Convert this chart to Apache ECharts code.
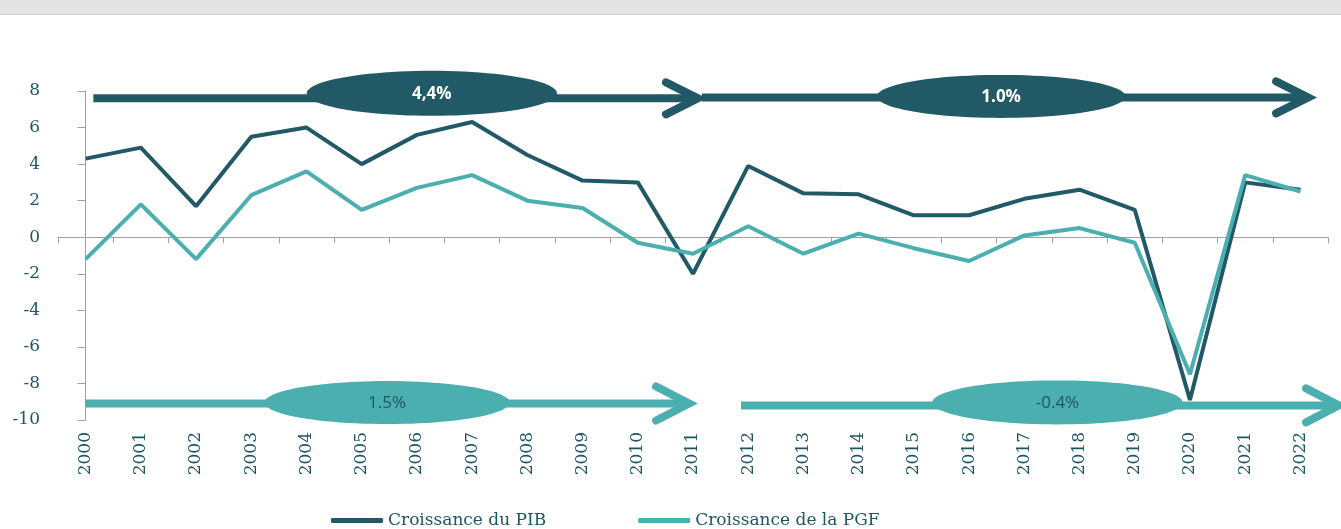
<!DOCTYPE html>
<html>
<head>
<meta charset="utf-8">
<script src="https://cdn.jsdelivr.net/npm/echarts@6/dist/echarts.min.js"></script>
<style>
html,body{margin:0;padding:0;background:#fff;}
#chart{width:1341px;height:529px;}
</style>
</head>
<body>
<div id="chart"></div>
<script>
// ---- Data ----
const years = ['2000','2001','2002','2003','2004','2005','2006','2007','2008','2009','2010','2011',
               '2012','2013','2014','2015','2016','2017','2018','2019','2020','2021','2022'];
const pibGrowth = [4.3, 4.9, 1.7, 5.5, 6.0, 4.0, 5.6, 6.3, 4.5, 3.1, 3.0, -2.0,
                   3.9, 2.4, 2.35, 1.2, 1.2, 2.1, 2.6, 1.5, -8.9, 3.0, 2.6];
const pgfGrowth = [-1.2, 1.8, -1.2, 2.3, 3.6, 1.5, 2.7, 3.4, 2.0, 1.6, -0.3, -0.9,
                   0.6, -0.9, 0.2, -0.6, -1.3, 0.1, 0.5, -0.3, -7.5, 3.4, 2.5];
const seriesNames = ['Croissance du PIB', 'Croissance de la PGF'];
const periodLabels = ['4,4%', '1.0%', '1.5%', '-0.4%'];   // average growth per period
const periodSeries = [0, 0, 1, 1];                         // 0 = PIB, 1 = PGF

// ---- Styles / layout ----
const DARK = '#225966';
const LIGHT = '#4AAFAE';
const TXT = '#1F5664';
const AXIS = '#A0A0A0';
// arrow layout in axis units (x: category index, y: value)
const ARROW_LAYOUT = [
  {x0: 0.14, x1: 11.09, y: 7.6,  cx: 6.27,  w: 4.53, dy: -5, h: 45, head: 16, headX: 32},
  {x0: 11.16, x1: 22.14, y: 7.65, cx: 16.58, w: 4.50, dy: -1, h: 43, head: 16, headX: 32},
  {x0: 0.0,  x1: 10.93, y: -9.1,  cx: 5.46,  w: 4.44, dy: -1, h: 43, head: 17, headX: 33},
  {x0: 11.87, x1: 22.7, y: -9.2, cx: 17.6,  w: 4.53, dy: -3, h: 44, head: 17, headX: 33}
];

const chart = echarts.init(document.getElementById('chart'), null, {renderer: 'canvas'});

function renderArrow(params, api) {
  const i = params.dataIndex;
  const L = ARROW_LAYOUT[i];
  const color = periodSeries[i] === 0 ? DARK : LIGHT;
  const textColor = periodSeries[i] === 0 ? '#ffffff' : TXT;
  const p0 = api.coord([L.x0, L.y]);
  const p1 = api.coord([L.x1, L.y]);
  const pc = api.coord([L.cx, L.y]);
  const pw = api.coord([L.cx + L.w / 2, L.y]);
  const rx = pw[0] - pc[0];
  const ry = L.h / 2;
  const cy = pc[1] + L.dy;
  const pts = [];
  for (let k = 0; k < 96; k++) {
    const t = k / 96 * Math.PI * 2;
    pts.push([pc[0] + rx * Math.cos(t), cy + ry * Math.sin(t)]);
  }
  return {
    type: 'group',
    children: [
      {type: 'line', shape: {x1: p0[0], y1: p0[1], x2: p1[0] - 4, y2: p1[1]},
       style: {stroke: color, lineWidth: 8, lineCap: 'butt'}},
      {type: 'polyline', shape: {points: [[p1[0] - L.headX, p1[1] - L.head], [p1[0], p1[1]], [p1[0] - L.headX, p1[1] + L.head]]},
       style: {stroke: color, lineWidth: 8, lineCap: 'round', lineJoin: 'miter', fill: null}},
      {type: 'polygon', shape: {points: pts}, style: {fill: color}},
      {type: 'text', x: pc[0], y: cy + 1,
       style: {text: periodLabels[i], align: 'center', verticalAlign: 'middle', fill: textColor,
               font: (periodSeries[i] === 0 ? 'bold ' : '') + '17px "Open Sans"'}}
    ]
  };
}

const option = {
  animation: false,
  backgroundColor: '#ffffff',
  graphic: [
    {type: 'rect', left: 0, top: 0, shape: {width: 1341, height: 14}, style: {fill: '#E4E4E4'}, silent: true},
    {type: 'rect', left: 0, top: 14, shape: {width: 1341, height: 1}, style: {fill: '#D2D2D2'}, silent: true}
  ],
  grid: {left: 58, right: 13, top: 91, bottom: 109, containLabel: false},
  legend: {
    data: seriesNames,
    left: 326, top: 507,
    icon: 'roundRect', itemWidth: 52, itemHeight: 5, itemGap: 92,
    textStyle: {fontFamily: 'DejaVu Serif', fontSize: 17, color: TXT}
  },
  xAxis: [
    {
      type: 'category', data: years, boundaryGap: true,
      axisLine: {onZero: true, lineStyle: {color: AXIS, width: 1}},
      axisTick: {show: true, length: 6, lineStyle: {color: AXIS}},
      axisLabel: {show: false},
      splitLine: {show: false}
    },
    {
      type: 'category', data: years, boundaryGap: true, position: 'bottom',
      axisLine: {show: false, onZero: false},
      axisTick: {show: false},
      axisLabel: {rotate: 90, margin: 12, fontFamily: 'DejaVu Serif', fontSize: 17, color: TXT},
      splitLine: {show: false}
    },
    {
      type: 'value', min: -0.5, max: 22.5, show: false,
      axisLine: {onZero: false}, splitLine: {show: false}
    }
  ],
  yAxis: {
    type: 'value', min: -10, max: 8, interval: 2,
    axisLine: {show: true, lineStyle: {color: AXIS, width: 1}},
    axisTick: {show: true, length: 8, lineStyle: {color: AXIS}},
    axisLabel: {margin: 18, fontFamily: 'DejaVu Serif', fontSize: 17, color: TXT},
    splitLine: {show: false}
  },
  series: [
    {
      name: 'périodes', type: 'custom', xAxisIndex: 2, z: 1,
      renderItem: renderArrow, data: periodLabels.map((l, i) => [i]), silent: true, clip: false
    },
    {
      name: seriesNames[0], type: 'line', data: pibGrowth, xAxisIndex: 0, z: 3,
      symbol: 'none', lineStyle: {color: DARK, width: 4}, itemStyle: {color: DARK}
    },
    {
      name: seriesNames[1], type: 'line', data: pgfGrowth, xAxisIndex: 0, z: 4,
      symbol: 'none', lineStyle: {color: LIGHT, width: 4}, itemStyle: {color: LIGHT}
    }
  ]
};
chart.setOption(option);
</script>
</body>
</html>
